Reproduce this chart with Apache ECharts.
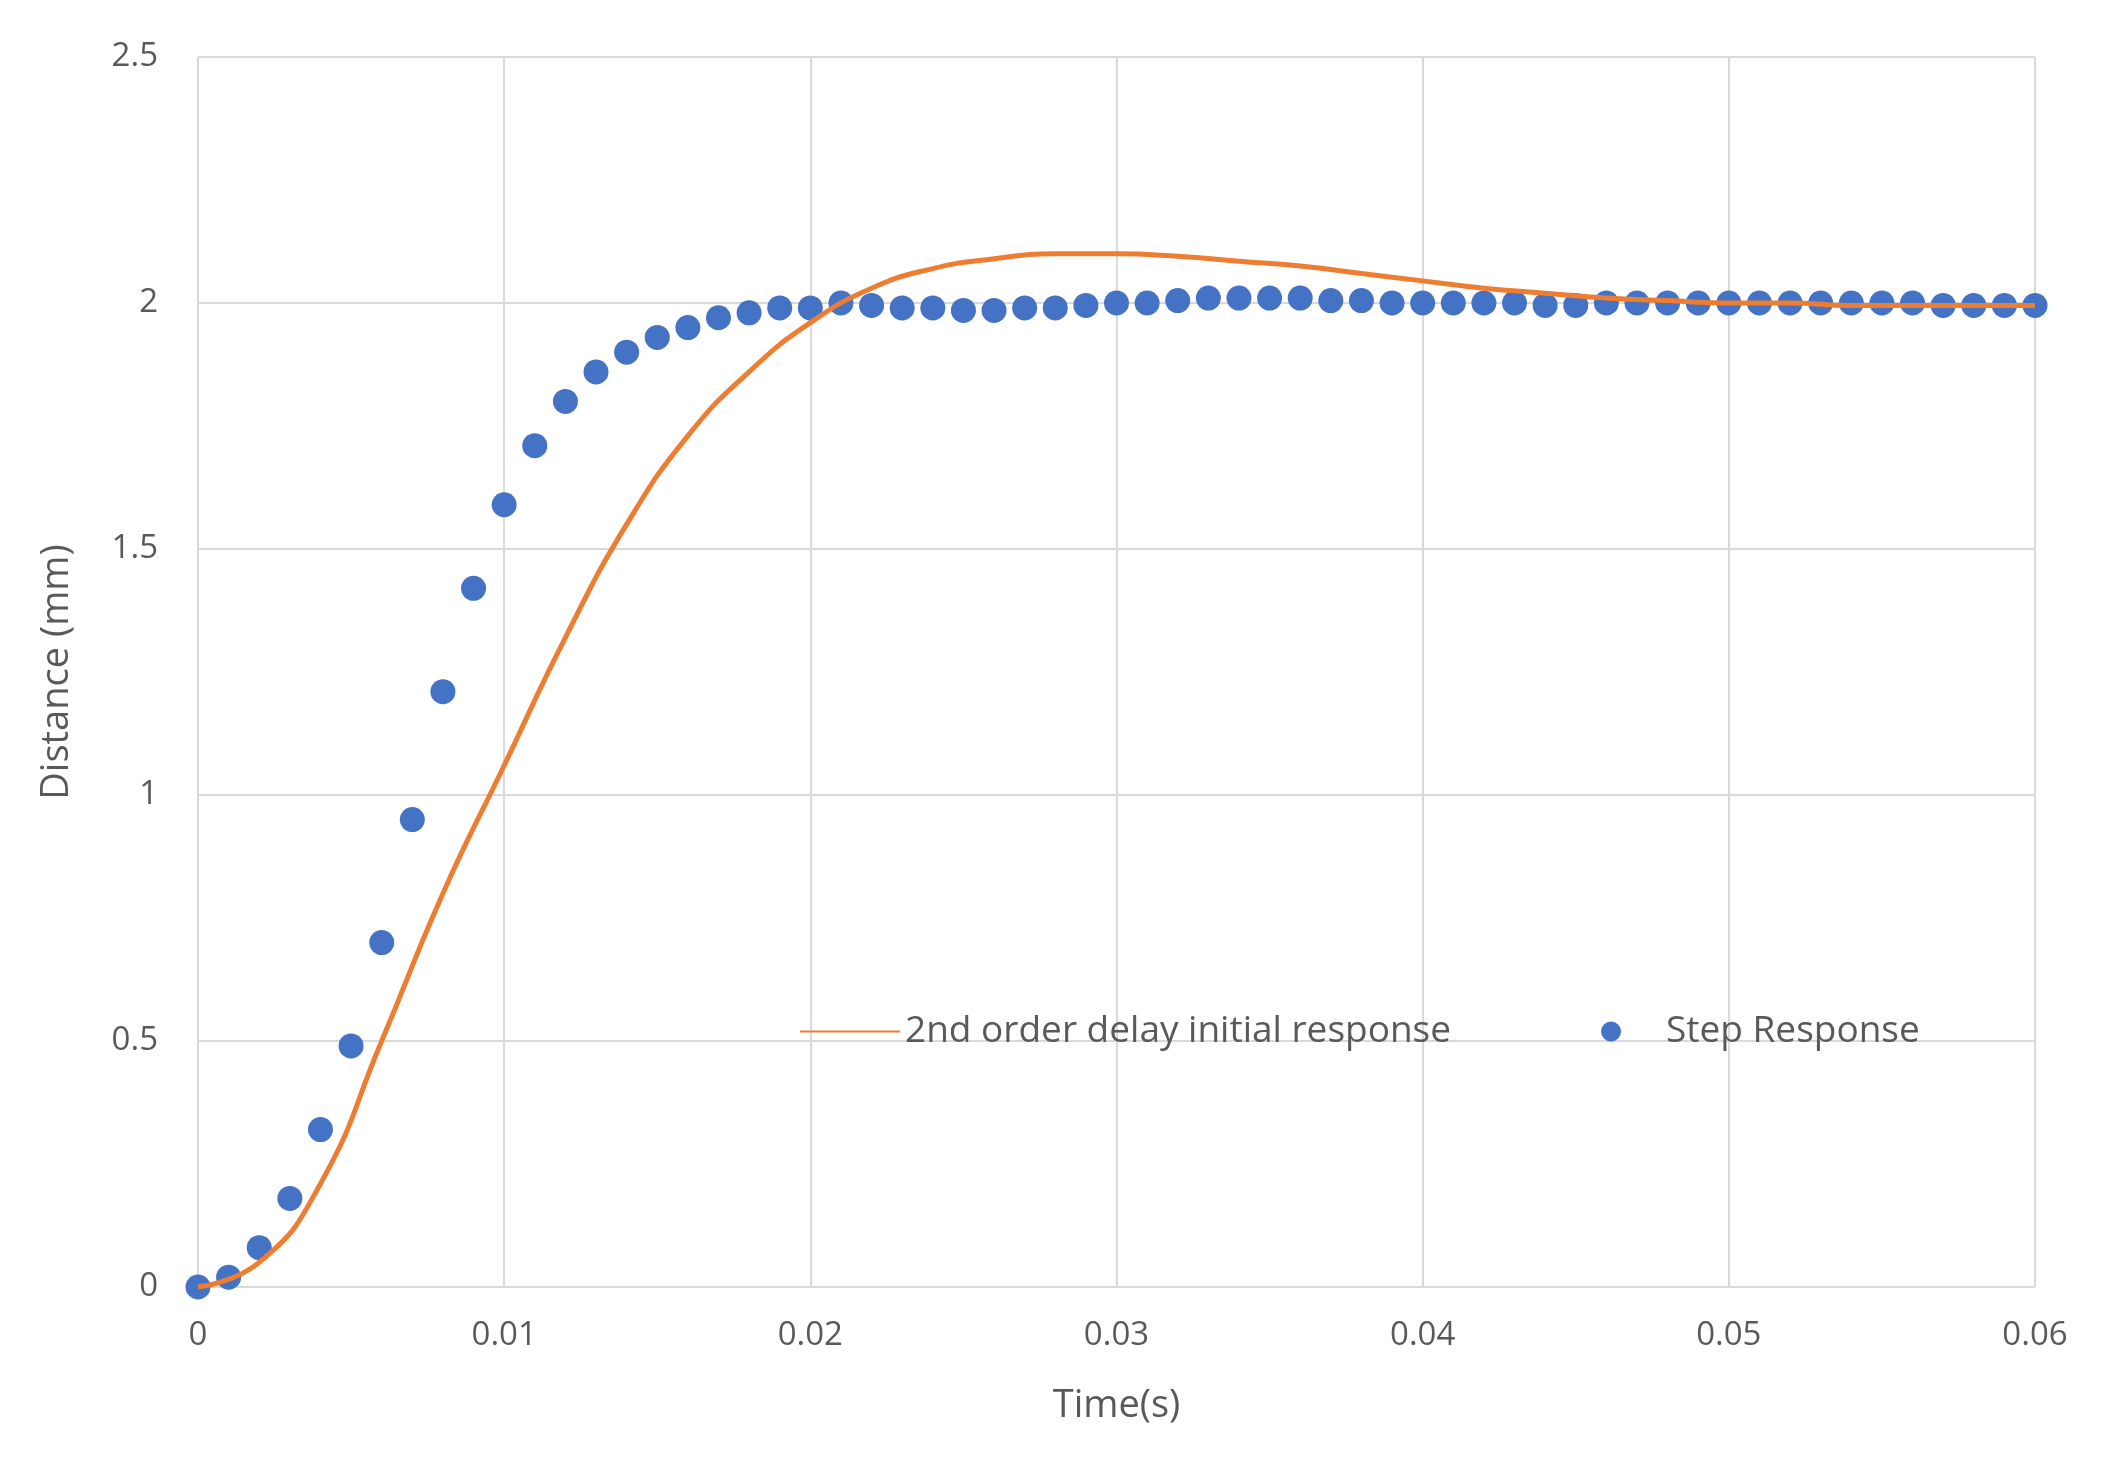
<!DOCTYPE html>
<html>
<head>
<meta charset="utf-8">
<script src="https://cdn.jsdelivr.net/npm/echarts@6/dist/echarts.min.js"></script>
<style>html,body{margin:0;padding:0;background:#fff}#chart{width:2117px;height:1462px}</style>
</head>
<body>
<div id="chart"></div>
<script>
// 阶跃响应 (每 0.001 s)
var stepTime = [];
for (var i = 0; i <= 60; i++) stepTime.push(+(i * 0.001).toFixed(3))
var stepValues = [0, 0.02, 0.08, 0.18, 0.32, 0.49, 0.70, 0.95, 1.21, 1.42,
    1.59, 1.71, 1.80, 1.86, 1.90, 1.93, 1.95, 1.97, 1.98, 1.99,
    1.99, 2.00, 1.995, 1.99, 1.99, 1.985, 1.985, 1.99, 1.99, 1.995,
    2.00, 2.00, 2.005, 2.01, 2.01, 2.01, 2.01, 2.005, 2.005, 2.00,
    2.00, 2.00, 2.00, 2.00, 1.995, 1.995, 2.00, 2.00, 2.00, 2.00,
    2.00, 2.00, 2.00, 2.00, 2.00, 2.00, 2.00, 1.995, 1.995, 1.995, 1.995]
// 二阶延迟曲线 (每 0.002 s)
var delayTime = [0, 0.002, 0.004, 0.006, 0.008, 0.010, 0.012, 0.014, 0.016, 0.018,
    0.020, 0.022, 0.024, 0.026, 0.028, 0.030, 0.032, 0.034, 0.036, 0.038,
    0.040, 0.042, 0.044, 0.046, 0.048, 0.050, 0.052, 0.054, 0.056, 0.058, 0.060]
var delayValues = [0, 0.05, 0.21, 0.50, 0.80, 1.06, 1.32, 1.55, 1.73, 1.86,
    1.96, 2.03, 2.07, 2.09, 2.10, 2.10, 2.095, 2.085, 2.075, 2.06,
    2.045, 2.03, 2.02, 2.01, 2.005, 2.00, 2.00, 1.995, 1.995, 1.995, 1.995]

var chart = echarts.init(document.getElementById('chart'))
var font = '"Open Sans", sans-serif'
chart.setOption({
    animation: false,
    grid: { left: 198, right: 82, top: 57, bottom: 175 },
    legend: {
        left: 795, top: 1008, itemGap: 150, itemWidth: 100, itemHeight: 20,
        textStyle: { fontFamily: font, fontSize: 37, color: '#595959' },
        data: [
            { name: '2nd order delay initial response', icon: 'path://M0,9L100,9L100,11L0,11Z' },
            { name: 'Step Response', icon: 'circle', itemStyle: { borderWidth: 0 } }
        ]
    },
    xAxis: {
        type: 'value', min: 0, max: 0.06, interval: 0.01,
        name: 'Time(s)', nameLocation: 'middle', nameGap: 100,
        nameTextStyle: { fontFamily: font, fontSize: 38, color: '#595959' },
        axisLine: { show: false }, axisTick: { show: false },
        axisLabel: { fontFamily: font, fontSize: 33, color: '#595959', margin: 32 },
        splitLine: { lineStyle: { color: '#d9d9d9', width: 2 } }
    },
    yAxis: {
        type: 'value', min: 0, max: 2.5, interval: 0.5,
        name: 'Distance (mm)', nameLocation: 'middle', nameGap: 122,
        nameTextStyle: { fontFamily: font, fontSize: 38, color: '#595959' },
        axisLine: { show: false }, axisTick: { show: false },
        axisLabel: { fontFamily: font, fontSize: 33, color: '#595959', margin: 40 },
        splitLine: { lineStyle: { color: '#d9d9d9', width: 2 } }
    },
    series: [{
        name: '2nd order delay initial response',
        type: 'line', smooth: 0.5, showSymbol: false, symbol: 'none',
        lineStyle: { color: '#ed7d31', width: 5 },
        itemStyle: { color: '#ed7d31' },
        data: delayTime.map(function (t, i) { return [t, delayValues[i]] })
    }, {
        name: 'Step Response',
        type: 'scatter', symbolSize: 25,
        itemStyle: { color: '#4472c4', opacity: 1 },
        data: stepTime.map(function (t, i) { return [t, stepValues[i]] })
    }]
})
</script>
</body>
</html>
